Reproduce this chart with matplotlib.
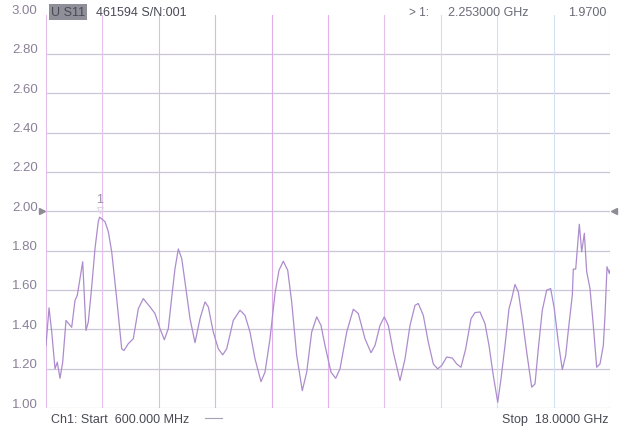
import matplotlib
matplotlib.use('Agg')
import matplotlib.pyplot as plt
import matplotlib.transforms as mtransforms
import numpy as np

# trace (GHz, VSWR)
freq_ghz = [0.600, 0.693, 0.776, 0.878, 0.949, 1.032, 1.115, 1.217, 1.393, 1.495,
            1.566, 1.732, 1.834, 1.905, 2.010, 2.112, 2.213, 2.253, 2.420, 2.522,
            2.627, 2.781, 2.935, 3.006, 3.139, 3.293, 3.448, 3.602, 3.808, 3.963,
            4.117, 4.250, 4.373, 4.497, 4.580, 4.682, 4.787, 4.888, 5.043, 5.197,
            5.351, 5.505, 5.607, 5.761, 5.916, 6.051, 6.175, 6.378, 6.585, 6.739,
            6.894, 7.048, 7.233, 7.356, 7.511, 7.665, 7.788, 7.921, 8.057, 8.180,
            8.334, 8.507, 8.643, 8.797, 8.951, 9.084, 9.207, 9.393, 9.538, 9.670,
            9.877, 10.081, 10.235, 10.441, 10.627, 10.750, 10.904, 11.037, 11.160, 11.315,
            11.521, 11.676, 11.830, 11.984, 12.086, 12.240, 12.394, 12.549, 12.684, 12.808,
            12.962, 13.135, 13.270, 13.403, 13.548, 13.712, 13.835, 13.989, 14.143, 14.267,
            14.400, 14.536, 14.637, 14.761, 14.884, 14.968, 15.069, 15.171, 15.294, 15.430,
            15.584, 15.686, 15.788, 15.911, 16.047, 16.170, 16.281, 16.405, 16.529, 16.633,
            16.714, 16.837, 16.868, 16.942, 17.004, 17.053, 17.127, 17.208, 17.281, 17.383,
            17.485, 17.589, 17.692, 17.794, 17.846, 17.908, 17.979, 18.000]
vswr = [1.318, 1.509, 1.388, 1.199, 1.233, 1.151, 1.233, 1.445, 1.410, 1.547,
        1.573, 1.743, 1.394, 1.437, 1.616, 1.811, 1.947, 1.970, 1.947, 1.896,
        1.794, 1.556, 1.301, 1.292, 1.327, 1.352, 1.505, 1.556, 1.514, 1.480,
        1.403, 1.347, 1.403, 1.590, 1.709, 1.808, 1.760, 1.641, 1.454, 1.332,
        1.454, 1.539, 1.514, 1.386, 1.301, 1.270, 1.301, 1.445, 1.497, 1.471,
        1.386, 1.250, 1.134, 1.182, 1.352, 1.582, 1.700, 1.746, 1.700, 1.539,
        1.267, 1.088, 1.182, 1.386, 1.463, 1.420, 1.318, 1.182, 1.151, 1.199,
        1.386, 1.502, 1.480, 1.352, 1.281, 1.318, 1.420, 1.463, 1.420, 1.284,
        1.139, 1.250, 1.420, 1.522, 1.531, 1.471, 1.335, 1.224, 1.199, 1.216,
        1.259, 1.254, 1.224, 1.207, 1.301, 1.454, 1.485, 1.488, 1.429, 1.318,
        1.165, 1.029, 1.148, 1.318, 1.505, 1.556, 1.628, 1.590, 1.454, 1.284,
        1.106, 1.122, 1.301, 1.497, 1.599, 1.607, 1.505, 1.335, 1.195, 1.267,
        1.394, 1.573, 1.706, 1.706, 1.837, 1.934, 1.794, 1.888, 1.692, 1.607,
        1.420, 1.207, 1.224, 1.318, 1.471, 1.718, 1.684, 1.700]

y_ticks = [1.0, 1.2, 1.4, 1.6, 1.8, 2.0, 2.2, 2.4, 2.6, 2.8, 3.0]
y_tick_labels = ['1.00', '1.20', '1.40', '1.60', '1.80', '2.00', '2.20', '2.40', '2.60', '2.80', '3.00']
start_ghz = 0.6
stop_ghz = 18.0
ref_level = 2.0
marker_freq = 2.253
marker_val = 1.97

# vertical division colours (the printout mixes pink and light blue lines)
div_colors = ['#e4bcec', '#e6c0ee', '#e3b8ec', '#e2b2ea', '#e0aee9', '#e2b2ea',
              '#e6bfee', '#d2def2', '#d2e2f2', '#d2e2f2', '#d6e4f0']

plt.rcParams['font.family'] = ['Liberation Sans', 'DejaVu Sans']

fig = plt.figure(figsize=(6.2, 4.31), dpi=100)
ax = fig.add_axes([46 / 620, 1 - 409 / 431, 564 / 620, 393.5 / 431])

ax.set_xlim(start_ghz, stop_ghz)
ax.set_ylim(1.0, 3.0)

# grid
for v in y_ticks[:-1]:
    ax.axhline(v, color='#cbc5d6', lw=0.9, zorder=1)
divs = np.linspace(start_ghz, stop_ghz, 11)
for d, c in zip(divs, div_colors):
    ax.axvline(d, color=c, lw=0.8, zorder=1)

for s in ax.spines.values():
    s.set_visible(False)

ax.set_xticks([])
ax.set_yticks(y_ticks)
ax.set_yticklabels(y_tick_labels, fontsize=9.5, color='#8a8098')
ax.tick_params(axis='y', length=0, pad=6)
offset = mtransforms.ScaledTranslation(0, 6 / 100, fig.dpi_scale_trans)
for lbl in ax.get_yticklabels():
    lbl.set_transform(lbl.get_transform() + offset)

# trace
ax.plot(freq_ghz, vswr, color='#ad8ccd', lw=0.9, zorder=3)

# marker 1
ax.plot([marker_freq], [marker_val + 0.035], marker='v', ms=5, mfc='none',
        mec='#ddd5e6', mew=0.8, zorder=4)
ax.text(marker_freq, marker_val + 0.06, '1', fontsize=9, color='#9a90a8',
        ha='center', va='bottom')

# reference level arrows
ax.plot([start_ghz], [ref_level], marker='>', ms=5, color='#8c8c94', clip_on=False,
        transform=ax.transData + mtransforms.ScaledTranslation(-4 / 100, 0, fig.dpi_scale_trans))
ax.plot([stop_ghz], [ref_level], marker='<', ms=5, color='#8c8c94', clip_on=False,
        transform=ax.transData + mtransforms.ScaledTranslation(4 / 100, 0, fig.dpi_scale_trans))

# header
fig.text(51 / 620, 1 - 13 / 431, 'U S11', fontsize=9, color='#4a4a56', va='center',
         bbox=dict(boxstyle='square,pad=0.15', fc='#8f8f9a', ec='none'))
fig.text(96 / 620, 1 - 13 / 431, '461594 S/N:001', fontsize=9, color='#4a4a56', va='center')
fig.text(429 / 620, 1 - 13 / 431, '> 1:', fontsize=8.5, color='#6a6a78', va='center', ha='right')
fig.text(448 / 620, 1 - 13 / 431, '2.253000 GHz', fontsize=9, color='#6a6a78', va='center')
fig.text(606 / 620, 1 - 13 / 431, '%.4f' % marker_val, fontsize=9, color='#6a6a78',
         va='center', ha='right')

# footer
fig.text(51 / 620, 1 - 420 / 431, 'Ch1: Start  600.000 MHz', fontsize=9, color='#4a4a56', va='center')
fig.lines.append(plt.Line2D([205 / 620, 222 / 620], [1 - 419 / 431, 1 - 419 / 431],
                            transform=fig.transFigure, color='#a8a0b4', lw=0.8))
fig.text(608 / 620, 1 - 420 / 431, 'Stop  18.0000 GHz', fontsize=9, color='#4a4a56',
         va='center', ha='right')

fig.savefig('out.png', dpi=100, facecolor='white')
